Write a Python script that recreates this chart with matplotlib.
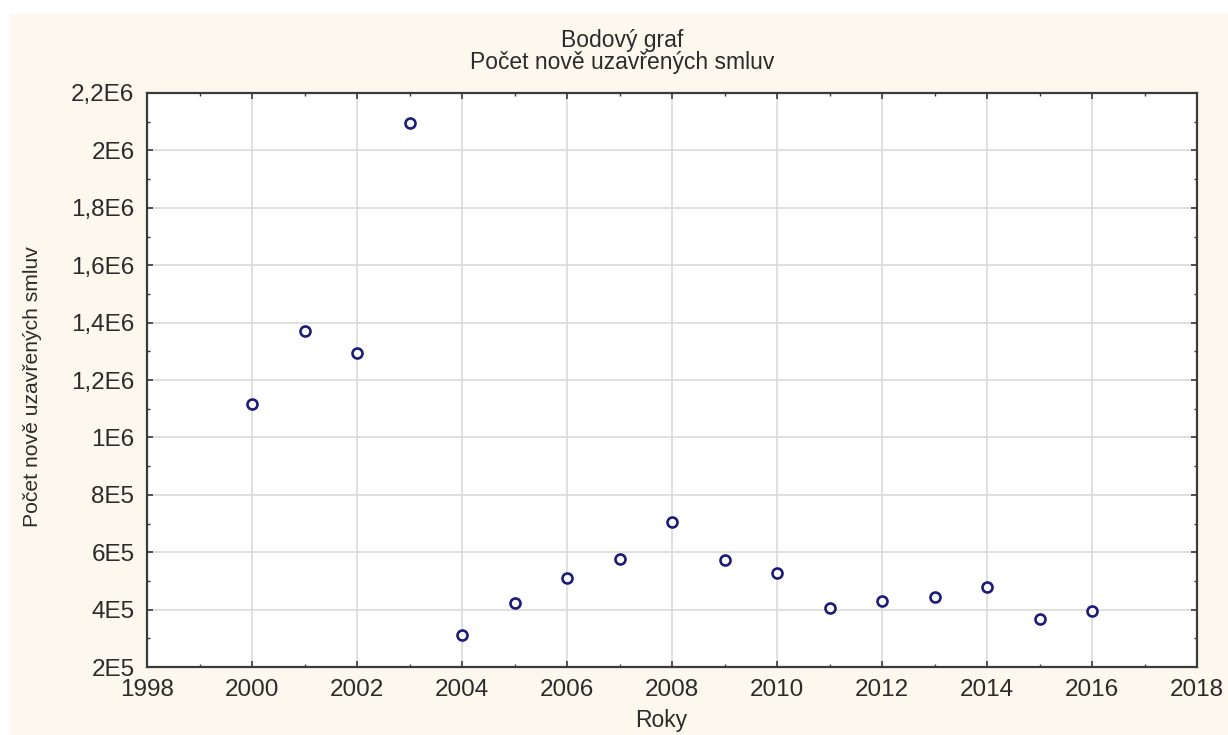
import matplotlib
matplotlib.use('Agg')
import matplotlib.pyplot as plt
from matplotlib.patches import Rectangle
from matplotlib.ticker import MultipleLocator, FuncFormatter

plt.rcParams['font.family'] = ['Liberation Sans', 'DejaVu Sans']

# pocet nove uzavrenych smluv za rok
roky = [2000, 2001, 2002, 2003, 2004, 2005, 2006, 2007, 2008,
        2009, 2010, 2011, 2012, 2013, 2014, 2015, 2016]
smlouvy = [1115000, 1369000, 1293000, 2094000, 310000, 423000, 511000, 578000, 704000,
           572000, 529000, 407000, 429000, 445000, 479000, 368000, 396000]

text_col = '#2b2b2b'
bg_col = '#fcf8ee'


def sci_label(v, pos):
    # 2200000 -> "2,2E6", 800000 -> "8E5"
    if v <= 0:
        return '0'
    s = '%.1E' % v
    mant, exp = s.split('E')
    mant = mant.rstrip('0').rstrip('.').replace('.', ',')
    return '%sE%d' % (mant, int(exp))


fig = plt.figure(figsize=(12.28, 7.35), dpi=100, facecolor='white')
fig.patches.append(Rectangle((10 / 1228, 0), 1 - 10 / 1228, 1 - 14 / 735,
                             transform=fig.transFigure, facecolor=bg_col,
                             edgecolor='none', zorder=-10))

ax = fig.add_axes([147 / 1228, 1 - 667 / 735, 1050 / 1228, 574 / 735])
ax.set_facecolor('white')

ax.plot(roky, smlouvy, linestyle='none', marker='o', markersize=7.2,
        markerfacecolor='white', markeredgecolor='#1c1c7a', markeredgewidth=1.9,
        zorder=3)

ax.set_xlim(1998, 2018)
ax.set_ylim(2e5, 2.2e6)
ax.xaxis.set_major_locator(MultipleLocator(2))
ax.xaxis.set_minor_locator(MultipleLocator(1))
ax.yaxis.set_major_locator(MultipleLocator(2e5))
ax.yaxis.set_minor_locator(MultipleLocator(1e5))
ax.yaxis.set_major_formatter(FuncFormatter(sci_label))

ax.grid(True, which='major', color='#dadada', linewidth=1.2)
ax.set_axisbelow(True)
for sp in ax.spines.values():
    sp.set_color('#3a3a3a')
    sp.set_linewidth(1.6)

ax.tick_params(which='both', direction='in', top=True, right=True,
               colors='#3a3a3a', labelcolor=text_col, labelsize=17.5)
ax.tick_params(which='major', length=4, width=1.2)
ax.tick_params(which='minor', length=2.5, width=1)
ax.tick_params(axis='y', pad=9)
ax.tick_params(axis='x', pad=9)

fig.text(0.507, 1 - 47 / 735, 'Bodový graf', ha='center', va='baseline',
         fontsize=16.5, color=text_col)
fig.text(0.507, 1 - 69 / 735, 'Počet nově uzavřených smluv', ha='center', va='baseline',
         fontsize=16.5, color=text_col)
fig.text(661 / 1228, 1 - 727 / 735, 'Roky', ha='center', va='baseline',
         fontsize=16.5, color=text_col)
fig.text(33 / 1228, 1 - 387 / 735, 'Počet nově uzavřených smluv', ha='center', va='center',
         rotation=90, fontsize=15.2, color=text_col)

fig.savefig('out.png', dpi=100, facecolor='white')
